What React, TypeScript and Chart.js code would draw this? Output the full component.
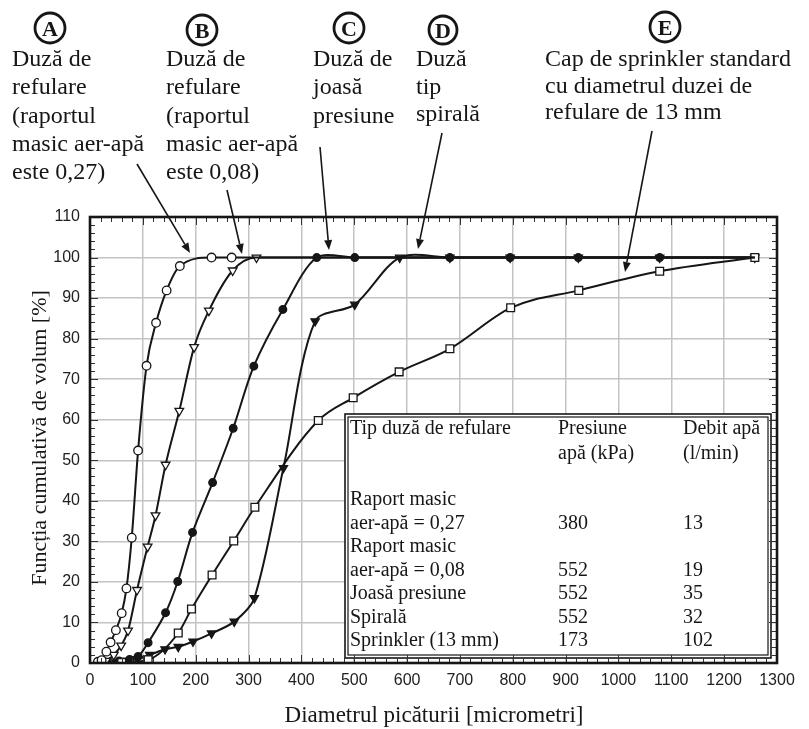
import { useEffect, useRef } from 'react';
import { Chart, registerables } from 'chart.js';

Chart.register(...registerables);

// ---------- data ----------
const xTickValues = [0, 100, 200, 300, 400, 500, 600, 700, 800, 900, 1000, 1100, 1200, 1300];
const yTickValues = [0, 10, 20, 30, 40, 50, 60, 70, 80, 90, 100, 110];

// A: raport masic aer-apă 0,27 (open circles)
const aX = [15, 22, 31, 39, 49, 60, 69, 79, 91, 107, 125, 145, 170, 230, 268, 1258];
const aY = [0.3, 0.7, 2.8, 5.1, 8.1, 12.3, 18.4, 30.9, 52.4, 73.3, 83.9, 91.9, 97.9, 100, 100, 100];

// B: raport masic aer-apă 0,08 (open triangles)
const bX = [30, 45, 59, 72, 89, 109, 124, 143, 169, 197, 225, 270, 315, 1258];
const bY = [0.5, 2.0, 4.3, 8.0, 18.0, 28.7, 36.4, 48.9, 62.2, 77.9, 86.9, 96.8, 100, 100];

// C: joasă presiune (filled circles)
const cX = [30, 55, 75, 91, 110, 143, 166, 194, 232, 271, 310, 365, 429, 501, 681, 795, 924, 1078, 1258];
const cY = [0.2, 0.5, 0.9, 1.6, 5.0, 12.4, 20.1, 32.2, 44.5, 57.9, 73.2, 87.2, 100, 100, 100, 100, 100, 100, 100];

// D: spirală (filled triangles)
const dX = [40, 70, 90, 113, 142, 167, 195, 230, 273, 311, 366, 426, 501, 586, 681, 795, 924, 1078, 1258];
const dY = [0.2, 0.6, 1.0, 2.0, 3.4, 4.0, 5.3, 7.3, 10.2, 16.0, 48.1, 84.3, 88.4, 100, 100, 100, 100, 100, 100];

// E: sprinkler 13 mm (open squares)
const eX = [60, 110, 167, 192, 231, 272, 312, 432, 498, 585, 681, 796, 925, 1078, 1258];
const eY = [0.1, 0.8, 7.4, 13.3, 21.7, 30.1, 38.4, 59.8, 65.4, 71.8, 77.5, 87.6, 91.9, 96.6, 100];

const xTitle = 'Diametrul picăturii [micrometri]';
const yTitle = 'Funcția cumulativă de volum [%]';

const tableHeader = [['Tip duză de refulare'], ['Presiune', 'apă (kPa)'], ['Debit apă', '(l/min)']];
const tableNames = [['Raport masic', 'aer-apă = 0,27'], ['Raport masic', 'aer-apă = 0,08'], ['Joasă presiune'], ['Spirală'], ['Sprinkler (13 mm)']];
const tablePressure = ['380', '552', '552', '552', '173'];
const tableFlow = ['13', '19', '35', '32', '102'];

const annA = ['Duză de', 'refulare', '(raportul', 'masic aer-apă', 'este 0,27)'];
const annB = ['Duză de', 'refulare', '(raportul', 'masic aer-apă', 'este 0,08)'];
const annC = ['Duză de', 'joasă', 'presiune'];
const annD = ['Duză', 'tip', 'spirală'];
const annE = ['Cap de sprinkler standard', 'cu diametrul duzei de', 'refulare de 13 mm'];

const SERIF = '"Liberation Serif", "Times New Roman", serif';
const TICKFONT = '"Liberation Sans Narrow", "Liberation Sans", Arial, sans-serif';
const INK = '#161616';

function arrow(ctx: CanvasRenderingContext2D, x1: number, y1: number, x2: number, y2: number) {
  ctx.save();
  ctx.strokeStyle = INK;
  ctx.fillStyle = INK;
  ctx.lineWidth = 1.6;
  const ang = Math.atan2(y2 - y1, x2 - x1);
  const L = 10, W = 4;
  const bx = x2 - L * Math.cos(ang), by = y2 - L * Math.sin(ang);
  ctx.beginPath();
  ctx.moveTo(x1, y1);
  ctx.lineTo(bx, by);
  ctx.stroke();
  ctx.beginPath();
  ctx.moveTo(x2, y2);
  ctx.lineTo(bx + W * Math.sin(ang), by - W * Math.cos(ang));
  ctx.lineTo(bx - W * Math.sin(ang), by + W * Math.cos(ang));
  ctx.closePath();
  ctx.fill();
  ctx.restore();
}

function circled(ctx: CanvasRenderingContext2D, cx: number, cy: number, r: number, letter: string) {
  ctx.save();
  ctx.strokeStyle = INK;
  ctx.lineWidth = 2.8;
  ctx.beginPath();
  ctx.arc(cx, cy, r, 0, Math.PI * 2);
  ctx.stroke();
  ctx.fillStyle = INK;
  ctx.font = `bold 22px ${SERIF}`;
  ctx.textAlign = 'center';
  ctx.textBaseline = 'alphabetic';
  ctx.fillText(letter, cx, cy + 8);
  ctx.restore();
}

function lines(ctx: CanvasRenderingContext2D, arr: string[], x: number, y0: number, step: number, size: number) {
  ctx.save();
  ctx.fillStyle = INK;
  ctx.font = `${size}px ${SERIF}`;
  ctx.textAlign = 'left';
  ctx.textBaseline = 'alphabetic';
  arr.forEach((t, i) => ctx.fillText(t, x, y0 + i * step + 6));
  ctx.restore();
}

const overlay = {
  id: 'overlay',
  afterDatasetsDraw(chart: any) {
    const ctx: CanvasRenderingContext2D = chart.ctx;
    // inset table
    const L = 345, T = 414, R = 771, B = 658;
    ctx.save();
    ctx.fillStyle = '#fff';
    ctx.fillRect(L, T, R - L, B - T);
    ctx.strokeStyle = INK;
    ctx.lineWidth = 1.6;
    ctx.strokeRect(L, T, R - L, B - T);
    ctx.lineWidth = 1.2;
    ctx.strokeRect(L + 3, T + 3, R - L - 6, B - T - 6);
    ctx.restore();

    const colX = [350, 558, 683];
    tableHeader.forEach((cell, c) => lines(ctx, cell, colX[c], 428, 24.5, 20));
    let yy = 499;
    const step = 23.5;
    tableNames.forEach((name, r) => {
      lines(ctx, name, colX[0], yy, step, 20);
      const last = yy + (name.length - 1) * step;
      lines(ctx, [tablePressure[r]], colX[1], last, step, 20);
      lines(ctx, [tableFlow[r]], colX[2], last, step, 20);
      yy = last + step;
    });
  },
  afterDraw(chart: any) {
    const ctx: CanvasRenderingContext2D = chart.ctx;
    const ca = chart.chartArea;
    const xs = chart.scales.x, ys = chart.scales.y;

    // minor ticks
    ctx.save();
    ctx.strokeStyle = '#333';
    ctx.lineWidth = 1;
    ctx.beginPath();
    for (let v = 0; v <= 1300; v += 20) {
      const px = Math.round(xs.getPixelForValue(v)) + 0.5;
      const len = v % 100 === 0 ? 8 : 5;
      ctx.moveTo(px, ca.bottom); ctx.lineTo(px, ca.bottom - len);
      ctx.moveTo(px, ca.top); ctx.lineTo(px, ca.top + len);
    }
    for (let v = 0; v <= 110; v += 2) {
      const py = Math.round(ys.getPixelForValue(v)) + 0.5;
      const len = v % 10 === 0 ? 8 : 5;
      ctx.moveTo(ca.left, py); ctx.lineTo(ca.left + len, py);
      ctx.moveTo(ca.right, py); ctx.lineTo(ca.right - len, py);
    }
    ctx.stroke();
    // frame
    ctx.strokeStyle = INK;
    ctx.lineWidth = 2.6;
    ctx.strokeRect(ca.left, ca.top, ca.right - ca.left, ca.bottom - ca.top);
    ctx.restore();

    // axis titles
    ctx.save();
    ctx.fillStyle = INK;
    ctx.font = `23px ${SERIF}`;
    ctx.textAlign = 'center';
    ctx.textBaseline = 'middle';
    ctx.fillText(xTitle, 434, 716);
    ctx.translate(40, 438);
    ctx.rotate(-Math.PI / 2);
    ctx.font = `22px ${SERIF}`;
    ctx.fillText(yTitle, 0, 0);
    ctx.restore();

    // annotations
    circled(ctx, 50, 28, 15, 'A');
    circled(ctx, 202, 30, 15, 'B');
    circled(ctx, 349, 28, 15, 'C');
    circled(ctx, 443, 30, 14, 'D');
    circled(ctx, 665, 27, 15, 'E');
    lines(ctx, annA, 12, 60, 28.3, 24);
    lines(ctx, annB, 166, 60, 28.3, 24);
    lines(ctx, annC, 313, 60, 28.3, 24);
    lines(ctx, annD, 416, 60, 27.5, 24);
    lines(ctx, annE, 545, 60, 26.5, 24);
    arrow(ctx, 137, 164, 190, 253);
    arrow(ctx, 227, 190, 242, 254);
    arrow(ctx, 320, 147, 329, 250);
    arrow(ctx, 442, 133, 418, 249);
    arrow(ctx, 652, 131, 625, 272);
  },
};

function series(xs: number[], ys: number[], style: string, fill: string, rot: number, r: number, mode: 'monotone' | 'default', tension: number, hideLast: boolean) {
  return {
    data: xs.map((x, i) => ({ x, y: ys[i] })),
    showLine: true,
    borderColor: INK,
    borderWidth: 2,
    pointStyle: style,
    rotation: rot,
    pointRotation: rot,
    pointBackgroundColor: fill,
    pointBorderColor: INK,
    pointBorderWidth: 1.3,
    pointRadius: hideLast ? xs.map((_, i) => (i === xs.length - 1 ? 0 : r)) : r,
    cubicInterpolationMode: mode,
    tension,
  };
}

export default function App() {
  const ref = useRef<HTMLCanvasElement>(null);
  useEffect(() => {
    const chart = new Chart(ref.current!, {
      type: 'scatter',
      data: {
        datasets: [
          series(aX, aY, 'circle', '#fff', 0, 4.3, 'monotone', 0, true) as any,
          series(bX, bY, 'triangle', '#fff', 180, 5, 'monotone', 0, true) as any,
          series(eX, eY, 'rect', '#fff', 0, 5.5, 'monotone', 0, false) as any,
          series(cX, cY, 'circle', INK, 0, 3.8, 'default', 0.3, false) as any,
          series(dX, dY, 'triangle', INK, 180, 4.8, 'default', 0.3, false) as any,
        ],
      },
      options: {
        responsive: false,
        animation: false,
        devicePixelRatio: 1,
        layout: { padding: { left: 40, right: 32, top: 217, bottom: 0 } },
        plugins: { legend: { display: false }, tooltip: { enabled: false } },
        scales: {
          x: {
            type: 'linear',
            min: 0,
            max: 1300,
            afterFit: (s: any) => { s.height = 66; },
            afterBuildTicks: (s: any) => { s.ticks = xTickValues.map((v) => ({ value: v })); },
            ticks: { color: '#222', font: { family: TICKFONT, size: 16 }, padding: 8, maxRotation: 0, autoSkip: false, callback: (v: any) => String(v) },
            grid: { color: '#c3c3c3', lineWidth: 1.5, drawTicks: false },
            border: { display: false },
          },
          y: {
            type: 'linear',
            min: 0,
            max: 110,
            afterFit: (s: any) => { s.width = 50; },
            afterBuildTicks: (s: any) => { s.ticks = yTickValues.map((v) => ({ value: v })); },
            ticks: { color: '#222', font: { family: TICKFONT, size: 16 }, padding: 10, autoSkip: false, callback: (v: any) => String(v) },
            grid: { color: '#c3c3c3', lineWidth: 1.5, drawTicks: false },
            border: { display: false },
          },
        },
      },
      plugins: [overlay],
    });
    return () => chart.destroy();
  }, []);
  return (
    <div style={{ position: 'absolute', left: 0, top: 0, width: 809, height: 729, background: '#fff' }}>
      <canvas ref={ref} width={809} height={729} style={{ display: 'block', width: 809, height: 729 }} />
    </div>
  );
}
